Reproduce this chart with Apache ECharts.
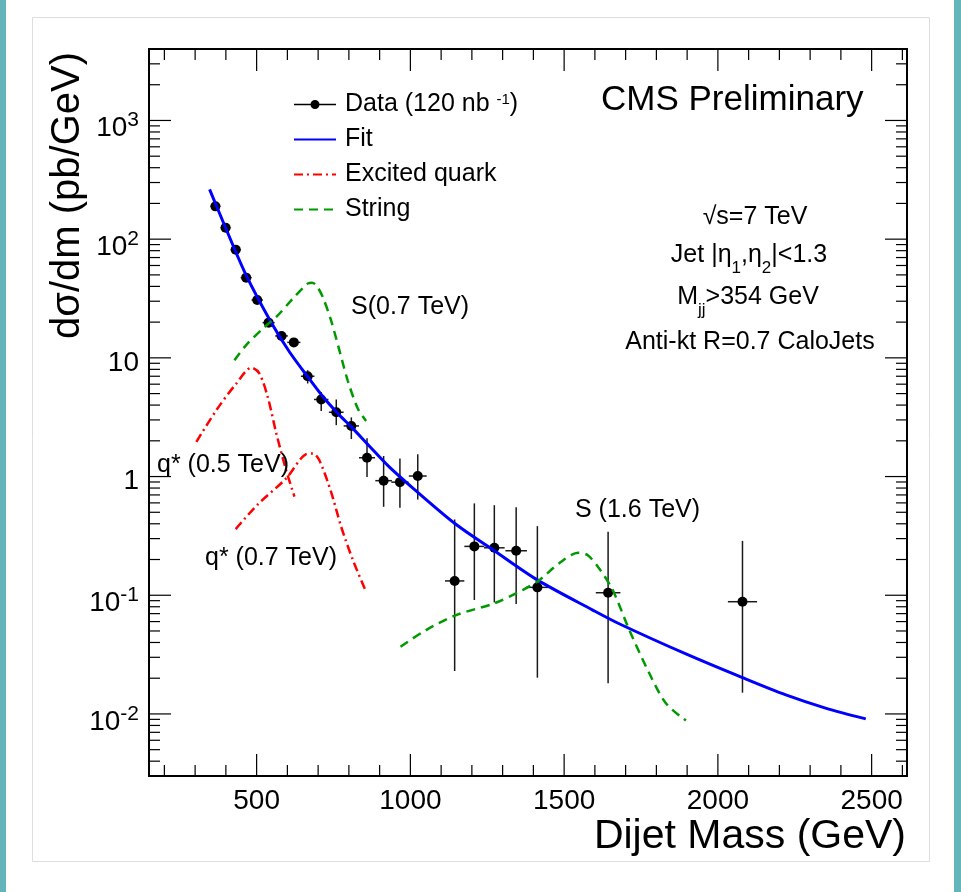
<!DOCTYPE html>
<html>
<head>
<meta charset="utf-8">
<script src="https://cdn.jsdelivr.net/npm/echarts@6/dist/echarts.min.js"></script>
<style>html,body{margin:0;padding:0;background:#fff}#c{width:961px;height:892px}</style>
</head>
<body>
<div id="c"></div>
<script>
// ---- data ----
const dataMass = [366, 399, 432, 466, 502, 539, 581, 621, 666, 710, 759, 808, 859, 913, 966, 1024, 1144, 1208, 1273, 1344, 1413, 1643, 2080];
const dataVal  = [189, 125, 81.6, 47.4, 30.7, 19.8, 15.3, 13.5, 7.0, 4.46, 3.48, 2.67, 1.44, 0.923, 0.897, 1.01, 0.132, 0.258, 0.251, 0.237, 0.1165, 0.105, 0.0882];
const errLow   = [184, 121, 78.8, 45.6, 29.3, 18.8, 14.4, 12.6, 6.08, 3.57, 2.71, 2.07, 0.99, 0.556, 0.545, 0.641, 0.0230, 0.0912, 0.0871, 0.0843, 0.0202, 0.0181, 0.0151];
const errHigh  = [194, 129, 84.4, 49.2, 32.1, 20.8, 16.2, 14.4, 7.87, 5.16, 4.46, 3.15, 2.10, 1.49, 1.42, 1.54, 0.435, 0.594, 0.574, 0.552, 0.382, 0.342, 0.287];
const binHalfWidth = [16, 16.5, 17, 18, 18.5, 19.5, 20.5, 21.5, 22, 23.5, 24, 25, 26, 27, 28, 29, 31.5, 32.5, 33.5, 35, 36, 40, 47.5];

const fitMass = [347, 400, 467, 547, 607, 672, 715, 769, 808, 867, 932, 1008, 1149, 1273, 1414, 1593, 1679, 1896, 2080, 2221, 2350, 2481];
const fitVal  = [263, 123, 49.0, 19.95, 11.2, 6.61, 4.73, 3.30, 2.62, 1.80, 1.20, 0.80, 0.394, 0.237, 0.134, 0.0750, 0.0575, 0.0320, 0.0202, 0.01445, 0.0112, 0.00908];

const qstar05Mass = [304, 369, 434, 483, 509, 536, 564, 596, 623];
const qstar05Val  = [1.96, 3.62, 6.08, 8.26, 7.38, 4.69, 2.31, 1.13, 0.677];
const qstar07Mass = [432, 503, 596, 661, 683, 704, 742, 775, 813, 856];
const qstar07Val  = [0.361, 0.580, 0.964, 1.545, 1.565, 1.37, 0.743, 0.377, 0.198, 0.107];

const string07Mass = [428, 466, 526, 564, 618, 666, 680, 694, 715, 742, 769, 796, 829, 856];
const string07Val  = [9.55, 12.8, 18.2, 22.1, 31.6, 42.2, 43.0, 40.8, 32.6, 20.7, 11.6, 6.47, 3.74, 2.94];
const string16Mass = [968, 1051, 1149, 1273, 1365, 1419, 1484, 1546, 1576, 1614, 1658, 1712, 1777, 1831, 1896];
const string16Val  = [0.0368, 0.0509, 0.0681, 0.0855, 0.1106, 0.134, 0.186, 0.228, 0.218, 0.168, 0.1106, 0.0509, 0.0220, 0.0123, 0.00879];

const xMajorTicks = [500, 1000, 1500, 2000, 2500];
const xMinorTicks = [200, 300, 400, 600, 700, 800, 900, 1100, 1200, 1300, 1400, 1600, 1700, 1800, 1900, 2100, 2200, 2300, 2400, 2600];
const yMajorTicks = [0.01, 0.1, 1, 10, 100, 1000];
const yMinorTicks = [0.004, 0.005, 0.006, 0.007, 0.008, 0.009,
  0.02, 0.03, 0.04, 0.05, 0.06, 0.07, 0.08, 0.09,
  0.2, 0.3, 0.4, 0.5, 0.6, 0.7, 0.8, 0.9,
  2, 3, 4, 5, 6, 7, 8, 9,
  20, 30, 40, 50, 60, 70, 80, 90,
  200, 300, 400, 500, 600, 700, 800, 900,
  2000, 3000];

// ---- chart ----
const FONT = '"Liberation Sans", Arial, Helvetica, sans-serif';
const DATA_NAME = 'Data';
const pairs = (xs, ys) => xs.map((x, i) => [x, ys[i]]);

const chart = echarts.init(document.getElementById('c'), null, {renderer: 'canvas'});

const tickSeriesX = {
  type: 'custom', silent: true, z: 10, clip: false,
  data: xMajorTicks.map(v => [v, 1, 1]).concat(xMinorTicks.map(v => [v, 1, 0])),
  encode: {x: 0, y: 1},
  renderItem(params, api) {
    const cs = params.coordSys;
    const px = api.coord([api.value(0), 1])[0];
    const len = api.value(2) ? 22 : 11;
    const st = {stroke: '#000', lineWidth: 1.2};
    return {type: 'group', children: [
      {type: 'line', shape: {x1: px, y1: cs.y + cs.height, x2: px, y2: cs.y + cs.height - len}, style: st},
      {type: 'line', shape: {x1: px, y1: cs.y, x2: px, y2: cs.y + len}, style: st}
    ]};
  }
};
const tickSeriesY = {
  type: 'custom', silent: true, z: 10, clip: false,
  data: yMajorTicks.map(v => [1000, v, 1]).concat(yMinorTicks.map(v => [1000, v, 0])),
  encode: {x: 0, y: 1},
  renderItem(params, api) {
    const cs = params.coordSys;
    const py = api.coord([1000, api.value(1)])[1];
    const len = api.value(2) ? 22 : 11;
    const st = {stroke: '#000', lineWidth: 1.2};
    return {type: 'group', children: [
      {type: 'line', shape: {x1: cs.x, y1: py, x2: cs.x + len, y2: py}, style: st},
      {type: 'line', shape: {x1: cs.x + cs.width, y1: py, x2: cs.x + cs.width - len, y2: py}, style: st}
    ]};
  }
};

const errorBars = {
  type: 'custom', name: DATA_NAME, z: 3,
  data: dataMass.map((m, i) => [m, dataVal[i], errLow[i], errHigh[i], m - binHalfWidth[i], m + binHalfWidth[i]]),
  encode: {x: 0, y: 1},
  itemStyle: {color: '#000'},
  renderItem(params, api) {
    const m = api.value(0), v = api.value(1);
    const a = api.coord([m, api.value(2)]), b = api.coord([m, api.value(3)]);
    const c = api.coord([api.value(4), v]), d = api.coord([api.value(5), v]);
    const st = {stroke: '#1a1a1a', lineWidth: 1.5};
    return {type: 'group', children: [
      {type: 'line', shape: {x1: a[0], y1: a[1], x2: b[0], y2: b[1]}, style: st},
      {type: 'line', shape: {x1: c[0], y1: c[1], x2: d[0], y2: d[1]}, style: st}
    ]};
  }
};

const RED = '#ff0000', GREEN = '#009a00', BLUE = '#0000ff';
const dashDot = [9, 4, 2, 4], dashed = [9, 6];

function curve(name, xs, ys, color, type, width, z) {
  return {
    type: 'line', name, data: pairs(xs, ys), symbol: 'none', showSymbol: false,
    smooth: 0.3, z, color,
    lineStyle: {color, width, type},
    itemStyle: {color}
  };
}

const textBase = {fontFamily: FONT, fill: '#000'};
function label(text, x, y, size, align, rich) {
  return {type: 'text', x, y, silent: true, z: 20,
    style: Object.assign({}, textBase, {text, fontSize: size, align: align || 'left', textAlign: align || 'left',
      verticalAlign: 'middle', textVerticalAlign: 'middle', rich: rich})};
}
const subRich = {
  t: {fontSize: 25, fontFamily: FONT, fill: '#000'},
  s: {fontSize: 17, fontFamily: FONT, fill: '#000', verticalAlign: 'bottom', lineHeight: 44}
};
const noDot = {opacity: 0};

const option = {
  animation: false,
  backgroundColor: '#ffffff',
  grid: {left: 149, top: 49, width: 758, height: 727, show: true, borderColor: '#000', borderWidth: 2,
    backgroundColor: 'transparent', containLabel: false, outerBoundsMode: 'none'},
  legend: {
    left: 293, top: 92, orient: 'vertical', padding: 0,
    itemWidth: 42, itemHeight: 9, itemGap: 10, selectedMode: false,
    textStyle: {fontFamily: FONT, fontSize: 25, color: '#000', lineHeight: 24, padding: [0, 0, 0, 4],
      rich: {a: {fontFamily: FONT, fontSize: 25, color: '#000'},
             sup: {fontFamily: FONT, fontSize: 15, color: '#000', verticalAlign: 'top', lineHeight: 24}}},
    formatter: n => n === DATA_NAME ? '{a|Data (120 nb }{sup|-1}{a|)}' : n,
    data: [
      {name: DATA_NAME, icon: 'path://M0,3.75 L42,3.75 L42,5.25 L0,5.25 Z M25.5,4.5 A4.5,4.5 0 1 1 16.5,4.5 A4.5,4.5 0 1 1 25.5,4.5 Z',
        itemStyle: {color: '#000', opacity: 1}},
      {name: 'Fit', itemStyle: noDot},
      {name: 'Excited quark', itemStyle: noDot},
      {name: 'String', itemStyle: noDot}
    ]
  },
  xAxis: {
    type: 'value', min: 150, max: 2615, interval: 50,
    name: 'Dijet Mass (GeV)', nameLocation: 'end', nameGap: -1, nameMoveOverlap: false,
    nameTextStyle: {fontFamily: FONT, fontSize: 41, color: '#000', align: 'right', verticalAlign: 'top', padding: [40, 0, 0, 0]},
    axisLine: {show: false}, axisTick: {show: false}, splitLine: {show: false},
    axisLabel: {fontFamily: FONT, fontSize: 28, color: '#000', margin: 11, showMinLabel: true, showMaxLabel: true,
      formatter: v => (Math.abs(v % 500) < 1e-6 ? String(v) : '')}
  },
  yAxis: {
    type: 'log', logBase: 10, min: 0.003, max: 4000,
    axisLine: {show: false}, axisTick: {show: false}, splitLine: {show: false}, minorTick: {show: false},
    axisLabel: {
      fontFamily: FONT, fontSize: 28, color: '#000', margin: 10,
      formatter: v => {
        const e = Math.log10(v), r = Math.round(e);
        if (Math.abs(e - r) > 1e-6) return '';
        if (r === 0) return '{p|1}';
        if (r === 1) return '{p|10}';
        return '{b|10}{sup|' + r + '}';
      },
      rich: {
        p: {fontFamily: FONT, fontSize: 28, color: '#000', lineHeight: 38, verticalAlign: 'bottom'},
        b: {fontFamily: FONT, fontSize: 28, color: '#000', lineHeight: 44, verticalAlign: 'bottom'},
        sup: {fontFamily: FONT, fontSize: 21, color: '#000', lineHeight: 44, verticalAlign: 'middle'}
      }
    }
  },
  series: [
    errorBars,
    {type: 'scatter', name: DATA_NAME, data: pairs(dataMass, dataVal), symbol: 'circle', symbolSize: 10,
      itemStyle: {color: '#000', opacity: 1}, z: 4},
    curve('Fit', fitMass, fitVal, BLUE, 'solid', 3, 5),
    curve('Excited quark', qstar05Mass, qstar05Val, RED, dashDot, 2.5, 5),
    curve('Excited quark', qstar07Mass, qstar07Val, RED, dashDot, 2.5, 5),
    curve('String', string07Mass, string07Val, GREEN, dashed, 2.5, 5),
    curve('String', string16Mass, string16Val, GREEN, dashed, 2.5, 5),
    tickSeriesX, tickSeriesY
  ],
  graphic: [
    {type: 'rect', silent: true, z: -10, shape: {x: 0, y: 0, width: 6, height: 892}, style: {fill: '#63b5ba'}},
    {type: 'rect', silent: true, z: -10, shape: {x: 954, y: 0, width: 7, height: 892}, style: {fill: '#63b5ba'}},
    {type: 'rect', silent: true, z: -10, shape: {x: 32.5, y: 17.5, width: 897, height: 844}, style: {fill: 'none', stroke: '#dedede', lineWidth: 1}},
    {type: 'text', x: 68, y: 52, rotation: Math.PI / 2, silent: true, z: 20,
      style: Object.assign({}, textBase, {text: 'dσ/dm (pb/GeV)', fontSize: 40, align: 'right', textAlign: 'right', verticalAlign: 'middle', textVerticalAlign: 'middle'})},
    label('CMS Preliminary', 601, 100.5, 35),
    label('√s=7 TeV', 755, 217, 25, 'center'),
    label('{t|Jet |η}{s|1}{t|,η}{s|2}{t||<1.3}', 749, 255, 25, 'center', subRich),
    label('{t|M}{s|jj}{t|>354 GeV}', 748, 297, 25, 'center', subRich),
    label('Anti-kt R=0.7 CaloJets', 750, 342, 25, 'center'),
    label('S(0.7 TeV)', 351, 307, 25),
    label('q* (0.5 TeV)', 157, 465, 25),
    label('q* (0.7 TeV)', 205, 558, 25),
    label('S (1.6 TeV)', 575, 510, 25)
  ]
};
chart.setOption(option);
</script>
</body>
</html>
